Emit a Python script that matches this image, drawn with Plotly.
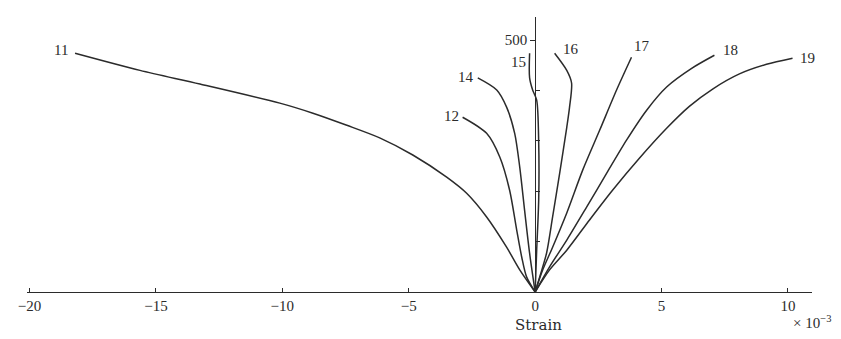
import plotly.graph_objects as go

# Load–strain curves for gauges 11–19 (strain in 1e-3, load in kN)
names = ["11", "12", "14", "15", "16", "17", "18", "19"]

strain_11 = [-18.20, -15.63, -13.26, -10.10, -8.79, -7.45, -6.15, -4.84, -3.50, -2.71, -1.92, -1.13, -0.61, 0.0]
load_11 = [474, 440, 413, 375, 355, 331, 306, 272, 228, 196, 149, 89, 44, 0]

strain_12 = [-2.87, -1.92, -1.40, -1.01, -0.73, -0.53, -0.34, 0.0]
load_12 = [347, 315, 268, 202, 123, 69, 30, 0]

strain_14 = [-2.27, -1.52, -1.13, -0.81, -0.61, -0.42, -0.22, 0.0]
load_14 = [425, 401, 367, 315, 248, 163, 77, 0]

strain_15 = [-0.22, -0.22, -0.10, 0.06, 0.14, 0.14, 0.06, 0.0]
load_15 = [474, 425, 401, 381, 296, 183, 83, 0]

strain_16 = [0.77, 1.25, 1.44, 1.36, 1.25, 0.97, 0.69, 0.45, 0.18, 0.0]
load_16 = [474, 440, 415, 367, 327, 236, 149, 77, 30, 0]

strain_17 = [3.81, 3.22, 2.55, 1.88, 1.25, 0.69, 0.30, 0.0]
load_17 = [466, 401, 321, 242, 157, 89, 44, 0]

strain_18 = [7.09, 6.19, 5.20, 4.41, 3.62, 2.83, 2.04, 1.25, 0.57, 0.0]
load_18 = [470, 444, 407, 361, 302, 236, 169, 103, 50, 0]

strain_19 = [10.18, 9.15, 8.08, 7.02, 6.11, 5.20, 4.13, 3.06, 2.15, 1.25, 0.57, 0.0]
load_19 = [464, 452, 433, 403, 369, 325, 266, 202, 143, 83, 44, 0]

series_strain = [strain_11, strain_12, strain_14, strain_15, strain_16, strain_17, strain_18, strain_19]
series_load = [load_11, load_12, load_14, load_15, load_16, load_17, load_18, load_19]

# Label offsets (in axis units) from each curve's free end
label_dx = [-0.55, -0.45, -0.47, -0.45, 0.63, 0.43, 0.63, 0.58]
label_dy = [6, 2, 2, -18, 8, 22, 10, 0]

x_ticks = [-20, -15, -10, -5, 0, 5, 10]
y_major = [500]
y_major_text = ["500"]
y_minor = [100, 200, 300, 400]

X_MIN, X_MAX = -20.1, 10.95
Y_MAX = 546

ink = "#2b2b2b"
serif = "Liberation Serif, DejaVu Serif, serif"
font = dict(family=serif, size=15, color=ink)

fig = go.Figure()
for name, xs, ys in zip(names, series_strain, series_load):
    fig.add_trace(go.Scatter(
        x=xs, y=ys, mode="lines", name=name,
        line=dict(color=ink, width=1.5, shape="spline", smoothing=0.8),
        showlegend=False, hoverinfo="skip",
    ))

for name, xs, ys, dx, dy in zip(names, series_strain, series_load, label_dx, label_dy):
    fig.add_annotation(
        x=xs[0] + dx, y=ys[0] + dy, text=name, showarrow=False,
        xanchor="center", yanchor="middle", font=font,
    )

fig.add_annotation(x=0.15, y=0, text="Strain", showarrow=False, yshift=-33,
                   xanchor="center", yanchor="middle",
                   font=dict(family="DejaVu Serif, serif", size=15, color=ink))
fig.add_annotation(x=X_MAX, y=0, text="× 10<sup>−3</sup>", showarrow=False,
                   yshift=-30, xshift=0, xanchor="center", yanchor="middle",
                   font=dict(family=serif, size=15, color=ink))

fig.update_layout(
    width=841, height=339,
    margin=dict(l=27, r=29, t=17, b=47),
    paper_bgcolor="white", plot_bgcolor="white",
    font=font,
    xaxis=dict(
        range=[X_MIN, X_MAX], tickvals=x_ticks,
        ticks="inside", ticklen=4, tickcolor=ink, tickwidth=1,
        showline=True, linecolor=ink, linewidth=1.2,
        showgrid=False, zeroline=True, zerolinecolor=ink, zerolinewidth=1.2,
        tickfont=font,
    ),
    yaxis=dict(
        range=[0, Y_MAX], tickvals=y_major, ticktext=y_major_text,
        anchor="free", position=(0 - X_MIN) / (X_MAX - X_MIN),
        ticks="outside", ticklen=5, tickcolor=ink, tickwidth=1,
        minor=dict(tickvals=y_minor, ticks="inside", ticklen=4,
                   tickcolor=ink, tickwidth=1, showgrid=False),
        showline=False, showgrid=False, zeroline=False,
        tickfont=font,
    ),
)

fig.write_html("out.html")
